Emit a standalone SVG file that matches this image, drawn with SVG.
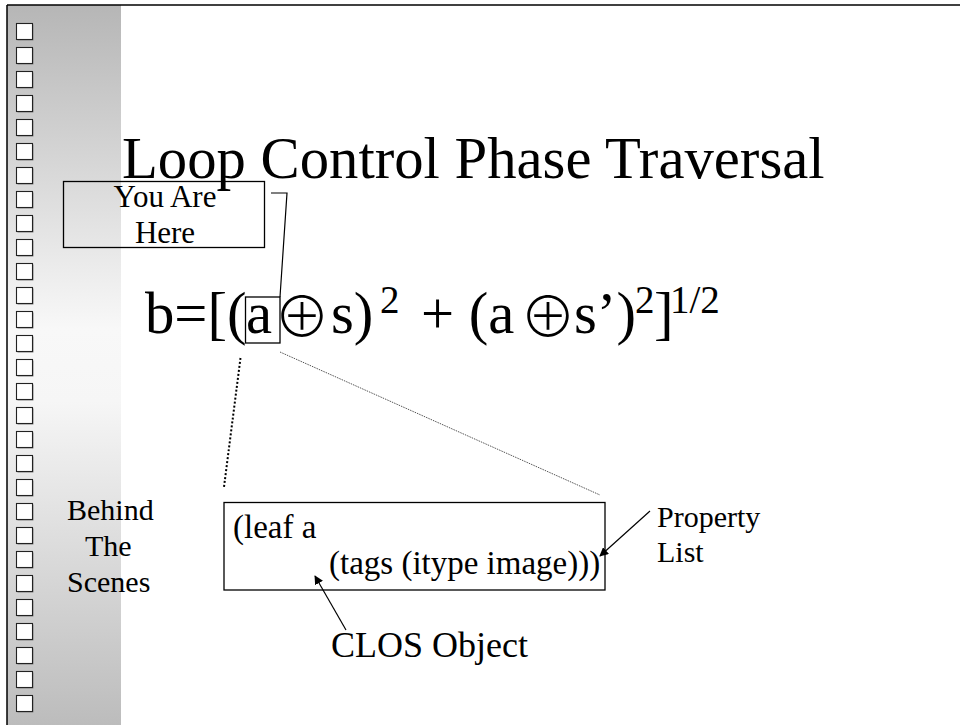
<svg xmlns="http://www.w3.org/2000/svg" width="960" height="725" viewBox="0 0 960 725">
<style>
  .t { font-family: "Liberation Serif", "Times New Roman", "DejaVu Serif", serif; fill: #000; }
  .sym { font-family: "DejaVu Sans", "Noto Sans CJK JP", sans-serif; font-weight: 200; fill: #000; }
  .box { fill: none; stroke: #000; stroke-width: 1.3; }
  .line { fill: none; stroke: #000; stroke-width: 1.2; }
</style>
<defs>
  <linearGradient id="strip" x1="0" y1="0" x2="0" y2="1">
    <stop offset="0" stop-color="#b6b6b6"/>
    <stop offset="0.45" stop-color="#f8f8f8"/>
    <stop offset="0.55" stop-color="#f6f6f6"/>
    <stop offset="1" stop-color="#bcbcbc"/>
  </linearGradient>
  <g id="sq">
    <rect x="17.5" y="1" width="16" height="16" fill="#8a8a8a"/>
    <rect x="16.5" y="0" width="16" height="16" fill="#fff" stroke="#222" stroke-width="1.1"/>
  </g>
  <marker id="ah" viewBox="0 0 10 10" refX="9" refY="5" markerWidth="9" markerHeight="9" markerUnits="userSpaceOnUse" orient="auto">
    <path d="M0,0 L10,5 L0,10 z" fill="#000"/>
  </marker>
</defs>

<rect width="960" height="725" fill="#fff"/>
<rect x="7" y="5" width="114" height="720" fill="url(#strip)"/>
<line x1="7" y1="5" x2="960" y2="5" stroke="#000" stroke-width="1.5"/>
<line x1="7" y1="5" x2="7" y2="725" stroke="#000" stroke-width="1.5"/>

<g id="squares">
  <use href="#sq" y="23.5"/><use href="#sq" y="47.5"/><use href="#sq" y="71.5"/><use href="#sq" y="95.5"/>
  <use href="#sq" y="119.5"/><use href="#sq" y="143.5"/><use href="#sq" y="167.5"/><use href="#sq" y="191.5"/>
  <use href="#sq" y="215.5"/><use href="#sq" y="239.5"/><use href="#sq" y="263.5"/><use href="#sq" y="287.5"/>
  <use href="#sq" y="311.5"/><use href="#sq" y="335.5"/><use href="#sq" y="359.5"/><use href="#sq" y="383.5"/>
  <use href="#sq" y="407.5"/><use href="#sq" y="431.5"/><use href="#sq" y="455.5"/><use href="#sq" y="479.5"/>
  <use href="#sq" y="503.5"/><use href="#sq" y="527.5"/><use href="#sq" y="551.5"/><use href="#sq" y="575.5"/>
  <use href="#sq" y="599.5"/><use href="#sq" y="623.5"/><use href="#sq" y="647.5"/><use href="#sq" y="671.5"/>
  <use href="#sq" y="695.5"/>
</g>

<g id="title">
  <text class="t" x="122" y="178" font-size="58.7">Loop Control Phase Traversal</text>
</g>

<g id="you-are-here">
  <rect class="box" x="63.5" y="181.5" width="201" height="66" fill="#fff"/>
  <text class="t" font-size="31" text-anchor="middle"><tspan x="165" y="207">You Are</tspan><tspan x="165" y="243">Here</tspan></text>
</g>

<g id="formula">
  <text class="t" font-size="58.7" y="333"><tspan x="145">b=[(</tspan><tspan x="246">a</tspan></text>
  <text class="sym" font-size="56" x="302" y="337" text-anchor="middle">⊕</text>
  <text class="t" font-size="58.7" y="333"><tspan x="331">s)</tspan><tspan x="380" font-size="39" dy="-20">2</tspan><tspan x="421" dy="20">+ (a</tspan></text>
  <text class="sym" font-size="56" x="548" y="337" text-anchor="middle">⊕</text>
  <text class="t" font-size="58.7" y="333"><tspan x="574">s’)</tspan><tspan x="635" font-size="39" dy="-20">2</tspan><tspan x="654" dy="20">]</tspan><tspan x="670" font-size="39" dy="-20">1/2</tspan></text>
  <rect class="box" x="245.5" y="297" width="34.5" height="46" stroke-width="1"/>
</g>

<g id="behind-the-scenes">
  <text class="t" font-size="30"><tspan x="67" y="520">Behind</tspan><tspan x="85" y="556">The</tspan><tspan x="67" y="592">Scenes</tspan></text>
</g>

<g id="leaf-box">
  <rect class="box" x="224" y="502.5" width="381" height="87.5" fill="#fff"/>
  <text class="t" font-size="33" x="233" y="538">(leaf a</text>
  <text class="t" font-size="33" x="329" y="574">(tags (itype image)))</text>
</g>

<g id="clos-label">
  <text class="t" font-size="36" x="331" y="657">CLOS Object</text>
</g>

<g id="property-label">
  <text class="t" font-size="30"><tspan x="657" y="527">Property</tspan><tspan x="657" y="562">List</tspan></text>
</g>

<g id="connectors">
  <polyline class="line" points="271,193 287,193 280,297"/>
  <line x1="240.5" y1="358" x2="224" y2="487" stroke="#000" stroke-width="2" stroke-dasharray="2,2"/>
  <line x1="280" y1="352" x2="600" y2="495" stroke="#555" stroke-width="1" stroke-dasharray="1.5,1"/>
  <line class="line" x1="346" y1="630" x2="315" y2="576" marker-end="url(#ah)"/>
  <line class="line" x1="650" y1="511" x2="600" y2="556" marker-end="url(#ah)"/>
</g>
</svg>
